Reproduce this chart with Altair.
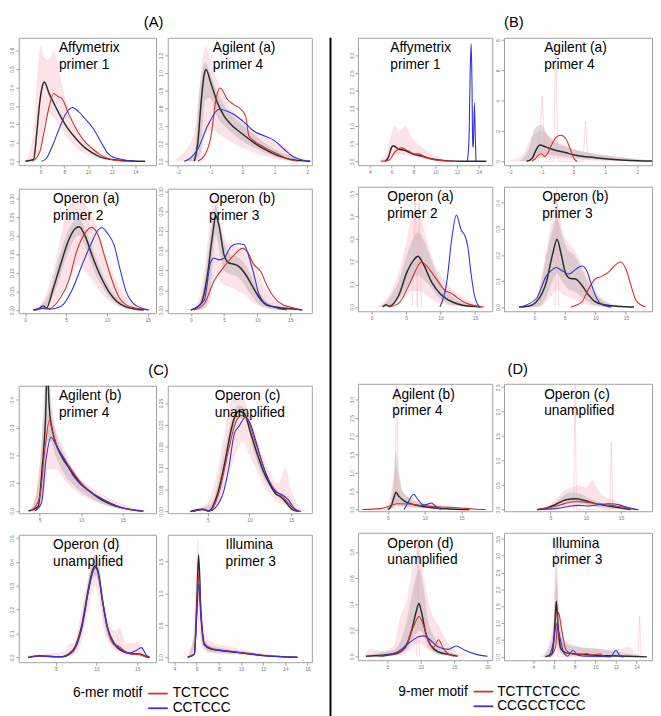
import altair as alt
import pandas as pd

FONT = "Liberation Sans"
RED = "#dd2b2b"
BLUE = "#3232d6"
BLACK = "#2b2b2b"
PINK = "#f5a9b6"
GRAY = "#9c9c9c"

# ---------------- labels ----------------
group_titles = ["(A)", "(B)", "(C)", "(D)"]
top_labels = ["Affymetrix\nprimer 1", "Agilent (a)\nprimer 4", "Operon (a)\nprimer 2", "Operon (b)\nprimer 3"]
bottom_labels = ["Agilent (b)\nprimer 4", "Operon (c)\nunamplified", "Operon (d)\nunamplified", "Illumina\nprimer 3"]
legend6_title = "6-mer motif"
legend6_motifs = ["TCTCCC", "CCTCCC"]
legend9_title = "9-mer motif"
legend9_motifs = ["TCTTCTCCC", "CCGCCTCCC"]

# ---------------- (A) 6-mer, top ----------------
A1_black = [(4.7,0),(5.4,0.01),(5.65,0.14),(5.92,0.32),(6.15,0.41),(6.32,0.43),(6.7,0.37),(7.0,0.33),(7.68,0.244),(8.35,0.173),(9.03,0.12),(9.7,0.076),(10.38,0.046),(11.05,0.023),(12.4,0.007),(13.76,0.002),(14.84,0)]
A1_red = [(5.3,0),(5.92,0.05),(6.32,0.17),(6.73,0.30),(7.1,0.368),(7.5,0.35),(7.8,0.34),(8.35,0.26),(9.03,0.173),(9.7,0.11),(10.4,0.067),(11.05,0.035),(11.7,0.016),(12.4,0.005),(13.8,0)]
A1_blue = [(6.05,0),(6.46,0.014),(7.0,0.085),(7.54,0.173),(8.08,0.253),(8.7,0.292),(9.2,0.27),(9.7,0.235),(10.5,0.173),(11.05,0.11),(11.6,0.05),(12.1,0.023),(12.9,0.01),(14.0,0)]
A1_pink = [(4.7,0,0.005),(5.3,0,0.12),(5.7,0.01,0.45),(6.0,0.08,0.63),(6.3,0.2,0.56),(6.7,0.26,0.55),(7.1,0.24,0.6),(7.7,0.18,0.45),(8.2,0.13,0.31),(8.8,0.085,0.21),(9.4,0.055,0.14),(10.0,0.033,0.095),(10.6,0.018,0.065),(11.2,0.01,0.042),(12.0,0.004,0.022),(12.6,0.002,0.013),(13.5,0,0.006),(14.8,0,0)]

A2_black = [(-1.49,0),(-1.38,0.21),(-1.28,0.66),(-1.18,0.99),(-1.13,1.04),(-0.97,0.88),(-0.77,0.66),(-0.56,0.51),(-0.36,0.42),(0,0.31),(0.36,0.21),(0.67,0.14),(1.08,0.067),(1.49,0.022),(2.1,0)]
A2_red = [(-1.38,0),(-1.15,0.08),(-0.97,0.29),(-0.82,0.70),(-0.69,0.83),(-0.46,0.70),(-0.26,0.64),(-0.05,0.59),(0.1,0.51),(0.2,0.29),(0.36,0.23),(0.67,0.16),(1.08,0.085),(1.38,0.03),(1.7,0)]
A2_blue = [(-1.8,0),(-1.6,0.04),(-1.38,0.14),(-1.08,0.4),(-0.72,0.59),(-0.36,0.55),(0,0.46),(0.36,0.34),(0.67,0.29),(0.97,0.24),(1.28,0.14),(1.59,0.048),(1.9,0.01),(2.1,0)]
A2_gray = [(-1.8,0,0.01),(-1.5,0,0.1),(-1.3,0.1,0.9),(-1.15,0.7,1.12),(-1.0,0.72,1.0),(-0.8,0.52,0.8),(-0.5,0.38,0.6),(0,0.23,0.42),(0.5,0.13,0.26),(1.0,0.05,0.14),(1.5,0.01,0.06),(2.0,0,0.01)]
A2_pink = [(-2.1,0,0.01),(-1.5,0,0.3),(-1.3,0.02,0.95),(-1.15,0.3,1.3),(-0.9,0.35,1.05),(-0.7,0.3,0.85),(-0.5,0.25,0.68),(0,0.15,0.47),(0.5,0.08,0.32),(1.0,0.03,0.22),(1.3,0.01,0.18),(1.6,0,0.07),(2.0,0,0.02)]

A3_black = [(1.0,0),(1.6,0.002),(2.17,0.011),(2.6,0.005),(3.36,0.053),(4.34,0.123),(5.33,0.189),(6.12,0.219),(6.6,0.224),(7.3,0.2),(8.29,0.14),(9.28,0.088),(10.26,0.048),(11.25,0.022),(12.24,0.009),(13.6,0.002),(14.5,0)]
A3_red = [(1.0,0),(2.4,0.005),(3.0,0.004),(4.1,0.026),(5.33,0.079),(6.3,0.158),(7.3,0.206),(8.1,0.222),(8.9,0.202),(9.7,0.145),(10.5,0.088),(11.45,0.035),(12.4,0.013),(14.0,0.003),(15.0,0)]
A3_blue = [(1.0,0),(1.8,0.004),(3.0,0.002),(4.34,0.009),(5.72,0.053),(6.9,0.118),(8.1,0.18),(8.9,0.215),(9.4,0.221),(10.07,0.206),(10.86,0.175),(11.65,0.105),(12.44,0.044),(13.2,0.018),(14.4,0.004),(15.2,0)]
A3_gray = [(1.5,0,0.005),(2.2,0.005,0.018),(3,0.02,0.05),(4,0.07,0.13),(5,0.14,0.2),(6,0.19,0.24),(6.6,0.2,0.245),(7.5,0.16,0.21),(8.5,0.1,0.15),(9.5,0.06,0.095),(10.5,0.03,0.055),(11.5,0.012,0.028),(12.5,0.004,0.012),(14,0,0.002)]
A3_pink = [(0.8,0,0.003),(2,0,0.02),(3,0.005,0.07),(4,0.03,0.16),(5,0.07,0.26),(5.8,0.1,0.29),(6.5,0.12,0.295),(7.5,0.1,0.28),(8.5,0.07,0.24),(9.5,0.04,0.17),(10.5,0.02,0.11),(11.5,0.008,0.06),(12.5,0.002,0.03),(13.5,0,0.012),(14.5,0,0.004),(15.5,0,0)]

A4_black = [(0,0),(1.5,0.016),(2.5,0.09),(3.25,0.189),(3.75,0.238),(4.25,0.213),(5.0,0.139),(5.75,0.119),(6.5,0.116),(7.25,0.11),(8.25,0.09),(9.25,0.061),(10.25,0.033),(11.5,0.012),(13.5,0.006),(16,0.002),(16.8,0)]
A4_red = [(0.5,0),(2,0.016),(3.5,0.074),(5,0.11),(6.5,0.139),(7.75,0.156),(8.5,0.148),(9.5,0.115),(10.5,0.098),(11.5,0.061),(12.5,0.033),(14,0.012),(15,0.008),(16.5,0)]
A4_blue = [(0,0),(2,0.025),(3,0.123),(3.5,0.131),(4.25,0.127),(5,0.131),(6,0.16),(7,0.168),(8,0.166),(8.75,0.135),(9.5,0.09),(10.25,0.041),(11,0.02),(12.5,0.008),(14.5,0)]
A4_gray = [(0.5,0,0.005),(1,0,0.01),(2,0.005,0.07),(3,0.06,0.2),(3.75,0.19,0.265),(4.5,0.13,0.2),(5,0.1,0.17),(6,0.09,0.14),(7,0.085,0.135),(8,0.065,0.12),(9,0.04,0.09),(10,0.02,0.055),(11,0.008,0.03),(12,0.003,0.015),(14,0,0.006),(16,0,0.002)]
A4_pink = [(-1,0,0.002),(0,0,0.005),(1,0,0.02),(2,0.002,0.1),(3,0.03,0.24),(3.75,0.1,0.29),(4.5,0.07,0.22),(5.5,0.06,0.17),(7,0.05,0.16),(8,0.04,0.15),(9,0.025,0.13),(10,0.012,0.1),(11,0.005,0.06),(12,0.002,0.035),(13,0,0.02),(15,0,0.01),(17,0,0)]

# ---------------- (B) 9-mer, top ----------------
B1_black = [(5.4,0),(5.7,0.12),(6.0,0.4),(6.16,0.444),(6.6,0.35),(7.2,0.31),(7.9,0.21),(8.7,0.15),(9.4,0.09),(10.15,0.046),(10.9,0.02),(12.4,0.005),(14.7,0)]
B1_red = [(5.0,0),(5.6,0.02),(5.9,0.07),(6.16,0.21),(6.6,0.35),(6.9,0.38),(7.5,0.3),(8.1,0.21),(8.5,0.21),(9.1,0.12),(9.7,0.055),(10.6,0.02),(11.8,0)]
B1_blue = [(12.95,0),(13.1,0.6),(13.22,2.6),(13.3,3.33),(13.37,2.4),(13.45,0.45),(13.5,0.4),(13.6,1.65),(13.68,0.7),(13.75,0)]
B1_pink = [(4.5,0,0.01),(5.0,0,0.06),(5.5,0.01,0.22),(6.0,0.1,0.8),(6.3,0.18,1.0),(6.7,0.2,0.85),(7.3,0.18,1.0),(7.7,0.15,0.75),(8.2,0.12,0.55),(8.7,0.08,0.42),(9.2,0.05,0.3),(9.7,0.03,0.2),(10.2,0.015,0.13),(11,0.005,0.06),(12,0,0.02),(13,0,0)]

B2_black = [(-1.46,0),(-1.3,0.17),(-1.15,0.82),(-1.05,1.08),(-0.85,0.93),(-0.54,0.71),(-0.23,0.56),(0,0.43),(0.48,0.28),(1.0,0.17),(1.5,0.09),(2.0,0.04),(2.46,0.02)]
B2_red = [(-1.3,0),(-1.2,0.15),(-1.1,0.39),(-1.0,0.5),(-0.9,0.32),(-0.8,0.55),(-0.74,0.82),(-0.54,1.57),(-0.39,1.72),(-0.23,1.47),(-0.08,0.71),(0.02,0.17),(0.12,0)]
B2_blue = []
B2_gray = [(-1.7,0,0.02),(-1.4,0.02,0.8),(-1.2,0.25,2.2),(-1.0,0.5,2.4),(-0.8,0.45,1.7),(-0.6,0.38,1.3),(-0.3,0.3,1.0),(0,0.22,0.8),(0.5,0.13,0.55),(1.0,0.07,0.4),(1.5,0.03,0.27),(2.0,0.01,0.14),(2.4,0,0.08)]
B2_pink = [(-2.1,0,0.02),(-1.6,0,0.4),(-1.3,0.05,1.6),(-1.0,0.2,2.0),(-0.7,0.2,1.6),(-0.4,0.15,1.2),(0,0.1,0.8),(0.5,0.05,0.55),(1.0,0.02,0.4),(1.5,0.01,0.27),(2.0,0,0.13),(2.4,0,0.05)]
B2_spikes = [(-1.1,0),(-0.98,4.3),(-0.88,0),(-0.62,0),(-0.55,7.7),(-0.48,0),(0.3,0),(0.38,2.65),(0.46,0)]

B3_black = [(1.6,0),(2.05,0.01),(2.5,0.003),(3.95,0.053),(5.1,0.153),(6.1,0.207),(6.7,0.224),(7.5,0.189),(8.7,0.11),(9.9,0.06),(11.1,0.031),(12.5,0.013),(14.4,0.003),(15.9,0)]
B3_red = [(2.5,0),(3.95,0.017),(5.4,0.096),(6.6,0.174),(7.2,0.2),(8,0.18),(8.7,0.153),(9.7,0.11),(10.6,0.074),(11.6,0.06),(12.5,0.039),(13.5,0.02),(14.9,0.006),(16.3,0)]
B3_blue = [(9.9,0),(10.9,0.11),(11.6,0.296),(12.3,0.406),(13.0,0.339),(13.5,0.317),(13.95,0.267),(14.4,0.153),(14.9,0.053),(15.4,0.01),(15.7,0)]
B3_gray = [(1,0,0),(2,0.002,0.02),(3,0.01,0.06),(4,0.04,0.12),(5,0.08,0.22),(6,0.13,0.3),(6.7,0.14,0.33),(7.5,0.12,0.3),(8.5,0.09,0.22),(9.5,0.05,0.14),(10.5,0.025,0.08),(11.5,0.01,0.05),(12.5,0.004,0.03),(14,0,0.01),(15.5,0,0)]
B3_pink = [(0.5,0,0.002),(1,0,0.005),(2,0,0.03),(3,0.005,0.08),(4,0.02,0.16),(5,0.05,0.28),(6,0.07,0.42),(7,0.07,0.4),(8,0.05,0.3),(9,0.03,0.2),(10,0.015,0.14),(11,0.008,0.1),(12,0.004,0.07),(13,0.002,0.05),(14,0,0.03),(15,0,0.015),(16,0,0)]
B3_spikes = [(5.9,0),(6.3,0.52),(6.6,0),(6.9,0.46),(7.2,0)]

B4_black = [(-2.5,0),(-1,0.003),(0.37,0.021),(1.97,0.096),(3.03,0.207),(3.72,0.26),(4.36,0.207),(5.16,0.127),(5.96,0.11),(6.76,0.108),(7.8,0.083),(8.9,0.046),(9.95,0.021),(11.5,0.009),(14.2,0.002),(16.3,0)]
B4_red = [(5.96,0),(7.8,0.021),(8.9,0.071),(9.95,0.108),(11,0.118),(12.1,0.133),(13.1,0.158),(14.1,0.173),(15,0.145),(15.8,0.083),(16.6,0.027),(17.4,0.009),(18.2,0)]
B4_blue = [(-2.3,0),(0.37,0.034),(1.97,0.12),(3.03,0.145),(3.56,0.152),(4.6,0.139),(5.7,0.127),(6.76,0.145),(7.8,0.158),(8.6,0.139),(9.4,0.083),(10.2,0.034),(11,0.011),(12.6,0)]
B4_gray = [(-2,0,0.002),(-1,0,0.005),(0,0,0.02),(1,0.005,0.08),(2,0.04,0.2),(3,0.1,0.3),(3.7,0.13,0.34),(4.5,0.1,0.28),(5.5,0.07,0.22),(6.5,0.06,0.2),(7.5,0.045,0.16),(8.5,0.025,0.11),(9.5,0.01,0.07),(10.5,0.004,0.04),(12,0,0.015),(14,0,0.005),(16,0,0)]
B4_pink = [(-2,0,0.003),(0,0,0.02),(1,0.002,0.1),(2,0.02,0.22),(3,0.05,0.35),(3.7,0.07,0.4),(4.5,0.05,0.3),(5.5,0.04,0.25),(6.5,0.03,0.22),(7.5,0.02,0.18),(8.5,0.01,0.13),(9.5,0.005,0.09),(10.5,0.002,0.05),(12,0,0.02),(14,0,0.007),(16,0,0)]
B4_spikes = [(3.4,0),(3.7,0.456),(4.0,0)]

# ---------------- (C) 6-mer, bottom ----------------
C1_black = [(3.65,0),(4.8,0.015),(5.3,0.156),(5.7,0.333),(5.9,0.52),(6.16,0.368),(6.55,0.286),(7.13,0.227),(7.7,0.192),(8.5,0.156),(9.46,0.115),(10.4,0.086),(11.4,0.062),(12.4,0.041),(13.5,0.025),(14.7,0.013),(16.2,0.004),(17.4,0)]
C1_red = [(4.0,0),(5.0,0.05),(5.6,0.215),(6.16,0.325),(6.55,0.286),(7.13,0.227),(7.7,0.198),(8.5,0.162),(9.46,0.121),(10.4,0.086),(12.4,0.045),(14.3,0.018),(16.4,0.003),(17.5,0)]
C1_blue = [(4.4,0),(5.2,0.027),(5.78,0.19),(6.36,0.265),(6.94,0.239),(7.5,0.21),(7.9,0.19),(8.3,0.168),(8.9,0.133),(9.65,0.104),(10.8,0.074),(12.4,0.045),(14.3,0.018),(16.6,0.001),(17.5,0)]
C1_gray = [(4,0,0.005),(5,0.02,0.15),(5.5,0.1,0.4),(5.9,0.25,0.55),(6.3,0.25,0.42),(7,0.19,0.28),(8,0.13,0.2),(9,0.095,0.15),(10,0.068,0.11),(11,0.048,0.08),(12,0.032,0.055),(13,0.02,0.035),(14,0.012,0.022),(15,0.006,0.012),(16.5,0.001,0.004),(17.5,0,0)]
C1_pink = [(3.5,0,0),(4.5,0,0.05),(5,0.01,0.17),(5.5,0.05,0.32),(6,0.15,0.35),(7,0.15,0.28),(8,0.11,0.22),(9,0.08,0.15),(9.8,0.06,0.11),(10.4,0.05,0.1),(11.5,0.035,0.08),(12.5,0.025,0.06),(13.5,0.015,0.045),(15,0.005,0.025),(16.5,0,0.01),(18,0,0)]

C2_black = [(2.9,0),(4.4,0.005),(5.1,0.001),(6.3,0.049),(7.1,0.117),(7.85,0.192),(8.4,0.226),(8.7,0.231),(9.4,0.226),(10.1,0.184),(10.9,0.135),(11.65,0.094),(12.4,0.064),(13.2,0.04),(13.75,0.034),(14.3,0.023),(15.1,0.005),(15.9,0)]
C2_red = [(3.2,0),(4.4,0.004),(5.2,0.001),(6.33,0.041),(7.47,0.139),(8.23,0.199),(9.07,0.222),(9.75,0.214),(10.5,0.173),(11.27,0.128),(12.03,0.086),(12.8,0.056),(13.75,0.038),(14.7,0.019),(15.46,0.004),(16,0)]
C2_blue = [(3.3,0),(4.4,0.005),(5.2,0.001),(6.7,0.034),(7.47,0.094),(8.2,0.18),(8.8,0.198),(9.56,0.218),(10.1,0.203),(10.9,0.154),(11.65,0.105),(12.4,0.068),(13.2,0.045),(14.0,0.038),(14.7,0.026),(15.5,0.005),(16.2,0)]
C2_gray = [(3,0,0.003),(4.4,0.002,0.008),(5.5,0.002,0.02),(6,0.02,0.05),(7,0.1,0.14),(8,0.19,0.22),(8.7,0.215,0.245),(9.5,0.21,0.235),(10.5,0.14,0.17),(11.5,0.085,0.11),(12.5,0.055,0.07),(13.5,0.033,0.045),(14.5,0.018,0.03),(15.5,0,0.005),(16,0,0)]
C2_pink = [(3,0,0.002),(5,0,0.02),(6,0.01,0.08),(7,0.06,0.18),(7.8,0.1,0.25),(8.5,0.14,0.265),(9.3,0.16,0.26),(10,0.13,0.22),(11,0.09,0.16),(12,0.05,0.11),(13,0.03,0.07),(13.5,0.02,0.065),(14.3,0.015,0.1),(15,0.005,0.05),(16,0,0.01),(17,0,0)]

C3_black = [(1.6,0),(3.0,0.007),(4.6,0.003),(5.8,0.003),(6.6,0.014),(7.4,0.048),(8.2,0.137),(9.0,0.288),(9.56,0.37),(9.84,0.384),(10.16,0.363),(10.75,0.233),(11.35,0.123),(12.1,0.062),(12.9,0.034),(14.1,0.016),(15.3,0.014),(16.1,0.003),(16.5,0)]
C3_red = [(1.6,0),(3.0,0.006),(5.8,0.003),(6.6,0.012),(7.4,0.045),(8.2,0.13),(9.0,0.28),(9.56,0.36),(9.84,0.377),(10.16,0.355),(10.75,0.23),(11.35,0.12),(12.1,0.055),(12.7,0.048),(13.3,0.03),(14.1,0.016),(15.3,0.012),(16.1,0.003),(16.5,0)]
C3_blue = [(1.6,0),(3.0,0.006),(5.8,0.003),(6.6,0.012),(7.4,0.04),(8.2,0.125),(9.0,0.28),(9.56,0.365),(9.84,0.377),(10.16,0.36),(10.75,0.235),(11.35,0.125),(12.1,0.06),(12.9,0.03),(14.1,0.018),(14.9,0.03),(15.5,0.041),(16.1,0.01),(16.5,0)]
C3_gray = [(6,0,0.01),(7.5,0.03,0.06),(8.5,0.15,0.22),(9.5,0.33,0.41),(9.9,0.34,0.43),(10.3,0.3,0.39),(11,0.13,0.2),(12,0.05,0.08),(13,0.025,0.04),(14,0.012,0.022),(15.5,0.005,0.015),(16.5,0,0)]
C3_pink = [(1.5,0,0.01),(4,0,0.015),(6,0,0.025),(6.6,0.005,0.055),(7.2,0.01,0.06),(8,0.05,0.17),(9,0.2,0.34),(9.8,0.3,0.43),(10.5,0.2,0.31),(11,0.1,0.2),(11.5,0.06,0.15),(12.2,0.03,0.11),(12.9,0.02,0.123),(13.5,0.01,0.06),(14.3,0.008,0.06),(15.2,0.005,0.065),(16,0,0.02),(17,0,0)]

C4_black = [(5.2,0),(5.8,0.05),(6.03,0.92),(6.18,1.6),(6.4,0.67),(6.7,0.2),(7.3,0.128),(8.5,0.1),(9.7,0.077),(10.9,0.051),(12.1,0.026),(13.6,0.01),(15.1,0)]
C4_red = [(5.2,0),(5.8,0.05),(6.03,0.8),(6.18,1.3),(6.4,0.65),(6.7,0.22),(7.3,0.14),(8.5,0.105),(9.7,0.08),(10.9,0.053),(12.1,0.028),(13.6,0.01),(15.1,0)]
C4_blue = [(5.2,0),(5.8,0.05),(6.03,0.7),(6.18,1.15),(6.4,0.62),(6.7,0.2),(7.3,0.13),(8.5,0.1),(9.7,0.075),(10.9,0.05),(12.1,0.025),(13.6,0.01),(15.1,0)]
C4_gray = [(5.3,0,0.01),(5.9,0.2,0.6),(6.18,0.9,1.65),(6.5,0.2,0.5),(7,0.1,0.2),(8,0.07,0.15),(10,0.05,0.1),(12,0.02,0.05),(14,0.005,0.015),(15.5,0,0)]
C4_pink = [(4.5,0,0.005),(5,0,0.02),(5.7,0.05,0.3),(6.1,0.6,1.85),(6.5,0.15,0.7),(7,0.07,0.3),(8,0.05,0.2),(9,0.04,0.17),(10,0.03,0.12),(12,0.01,0.06),(14,0,0.02),(15.5,0,0)]

# ---------------- (D) 9-mer, bottom ----------------
D1_black = [(5.0,0),(5.43,0.09),(5.87,0.36),(6.1,0.47),(6.5,0.36),(7.2,0.24),(8.26,0.15),(9.57,0.09),(11.3,0.045),(13.5,0.018),(16.1,0)]
D1_red = [(1.5,0),(3.9,0.027),(5.0,0.08),(5.65,0.13),(6.3,0.16),(7.8,0.15),(9.57,0.116),(11.3,0.08),(13.5,0.062),(14.8,0.045),(16.5,0.018),(18.3,0)]
D1_blue = [(7.2,0),(7.8,0.22),(8.5,0.42),(9.1,0.27),(9.8,0.13),(10.3,0.14),(10.9,0.18),(11.5,0.09),(12.2,0)]
D1_gray = [(4.5,0,0.01),(5,0,0.05),(5.7,0.02,0.6),(6.1,0.15,1.6),(6.5,0.12,1.0),(7,0.1,0.5),(8,0.07,0.3),(9,0.05,0.2),(10,0.04,0.15),(11,0.03,0.1),(12,0.02,0.07),(13,0.01,0.05),(15,0,0.02),(17,0,0)]
D1_pink = [(2,0,0.005),(4,0,0.03),(5,0.02,0.15),(5.7,0.05,0.8),(6.1,0.1,1.2),(6.5,0.1,0.8),(7,0.08,0.5),(8,0.06,0.35),(9,0.05,0.25),(10,0.04,0.2),(12,0.03,0.13),(14,0.02,0.08),(16,0.01,0.04),(18,0,0.01)]
D1_spikes = [(5.95,0),(6.2,3.6),(6.45,0)]

D2_black = [(3.1,0),(4.45,0.033),(5.8,0.11),(7.2,0.2),(8.6,0.22),(10,0.18),(11.3,0.127),(12.7,0.087),(14.1,0.053),(15.5,0.02),(16.4,0)]
D2_red = [(3.1,0),(5.8,0.067),(7.2,0.133),(8.6,0.167),(10,0.153),(11.3,0.127),(12.7,0.1),(14.1,0.08),(15.5,0.047),(16.8,0.007),(17.5,0)]
D2_blue = [(3.1,0),(5.8,0.02),(7.7,0.067),(9,0.087),(10.4,0.073),(11.8,0.1),(13.2,0.12),(14.1,0.113),(15,0.087),(15.9,0.047),(17.3,0)]
D2_gray = [(3,0,0.005),(4,0,0.02),(5,0.02,0.07),(6,0.06,0.18),(7,0.12,0.3),(8,0.15,0.35),(9,0.14,0.33),(10,0.11,0.27),(11,0.08,0.2),(12,0.05,0.14),(13,0.03,0.1),(14,0.02,0.07),(15,0,0.04),(16,0,0.01),(17,0,0)]
D2_pink = [(3,0,0.002),(4,0,0.04),(5,0.01,0.12),(6,0.03,0.25),(7,0.06,0.4),(8,0.08,0.45),(9,0.08,0.5),(10,0.06,0.45),(10.9,0.05,0.6),(12,0.03,0.35),(13,0.02,0.25),(14,0.01,0.2),(15,0.005,0.12),(16,0,0.05),(17,0,0)]
D2_spikes = [(8.3,0),(8.5,2.6),(8.7,0),(13.4,0),(13.62,1.37),(13.85,0)]

D3_black = [(1.8,0),(4.15,0.008),(6.5,0.025),(7.7,0.07),(8.64,0.2),(9.35,0.35),(9.73,0.406),(10.06,0.35),(10.77,0.173),(11.5,0.084),(12.66,0.033),(14.1,0.015),(15.5,0)]
D3_red = [(3.5,0),(6.5,0.02),(7.9,0.097),(8.9,0.224),(9.73,0.305),(10.5,0.224),(11.2,0.109),(11.95,0.071),(12.66,0.127),(13.4,0.058),(14.1,0.02),(15.0,0)]
D3_blue = [(4,0),(6.5,0.033),(8.4,0.109),(9.8,0.152),(10.5,0.157),(11.2,0.135),(12.66,0.071),(14.1,0.053),(15.3,0.079),(16.45,0.05),(18.3,0.015),(20,0)]
D3_gray = [(2,0,0.01),(4,0,0.03),(6,0.005,0.05),(7,0.02,0.12),(8,0.06,0.3),(9,0.15,0.55),(9.8,0.2,0.67),(10.5,0.15,0.5),(11,0.08,0.3),(12,0.03,0.15),(13,0.01,0.08),(14,0.005,0.04),(15,0,0.02),(16,0,0)]
D3_pink = [(1.5,0,0),(2.5,0,0.058),(4,0,0.04),(6,0.005,0.08),(6.75,0.01,0.27),(8,0.03,0.45),(9,0.08,0.75),(9.8,0.1,0.85),(10.5,0.08,0.6),(11.5,0.04,0.35),(12.5,0.02,0.25),(13.5,0.01,0.15),(15,0,0.05),(16,0,0.02),(17,0,0)]
D3_spikes = [(9.4,0),(9.6,0.91),(9.8,0)]

D4_black = [(5.17,0),(5.83,0.1),(6.1,0.98),(6.23,1.65),(6.43,0.78),(6.67,0.245),(7.17,0.118),(8.5,0.08),(9.83,0.05),(11.2,0.03),(13.2,0.02),(15.0,0)]
D4_red = [(5.6,0),(6.17,0.29),(6.43,1.32),(6.77,0.78),(7.17,0.2),(7.83,0.08),(8.5,0.06),(9.17,0.1),(9.67,0.05),(10.5,0.09),(10.83,0.02),(11.5,0)]
D4_blue = [(5.5,0),(6.0,0.49),(6.23,0.98),(6.57,0.59),(7.0,0.1),(7.33,0.02),(7.83,0.196),(8.33,0.05),(9.17,0.02),(11.5,0.01),(12.0,0.196),(12.43,0.02),(12.8,0)]
D4_gray = [(5,0,0.05),(5.8,0.02,0.5),(6.1,0.3,1.5),(6.23,0.6,2.4),(6.5,0.2,1.2),(7,0.05,0.4),(8,0.04,0.3),(9,0.03,0.28),(10,0.03,0.25),(11,0.02,0.2),(12,0.01,0.15),(13,0.005,0.1),(14,0,0.05),(15,0,0.01)]
D4_pink = [(4.5,0,0.01),(5,0,0.05),(5.8,0.05,0.8),(6.1,0.3,2.0),(6.23,0.4,2.6),(6.5,0.1,1.5),(7,0.03,0.5),(8,0.02,0.35),(9,0.01,0.25),(10,0.01,0.25),(11,0.005,0.22),(12,0,0.2),(13.2,0,0.3),(14,0,0.08),(15,0,0.02)]
D4_spikes = [(6.0,0),(6.2,3.5),(6.4,0),(14.15,0),(14.3,1.22),(14.45,0)]


def xy(pts):
    return pd.DataFrame(pts, columns=["x", "y"])


def band(pts):
    return pd.DataFrame(pts, columns=["x", "lo", "hi"])


def panel(label, lx, w, h, xdom, xticks, ydom, yticks, yfmt,
          black, red, blue, pink, gray=None, spikes=None):
    xs = alt.Scale(domain=xdom, nice=False, zero=False)
    ys = alt.Scale(domain=ydom, nice=False, zero=False)
    xa = alt.Axis(values=xticks, format="d")
    ya = alt.Axis(values=yticks, format=yfmt)

    def X(f="x"):
        return alt.X(f + ":Q", scale=xs, axis=xa, title=None)

    def Y(f="y"):
        return alt.Y(f + ":Q", scale=ys, axis=ya, title=None)

    layers = [alt.Chart(band(pink)).mark_area(color=PINK, opacity=0.32, interpolate="monotone", clip=True)
              .encode(x=X(), y=Y("lo"), y2="hi:Q")]
    if gray:
        layers.append(alt.Chart(band(gray)).mark_area(color=GRAY, opacity=0.33, interpolate="monotone", clip=True)
                      .encode(x=X(), y=Y("lo"), y2="hi:Q"))
    if spikes:
        layers.append(alt.Chart(xy(spikes)).mark_line(color=PINK, strokeWidth=0.8, opacity=0.55, clip=True)
                      .encode(x=X(), y=Y()))
    for pts, col, sw in [(black, BLACK, 1.5), (red, RED, 1.1), (blue, BLUE, 1.1)]:
        if pts:
            layers.append(alt.Chart(xy(pts)).mark_line(color=col, strokeWidth=sw, interpolate="monotone", clip=True)
                          .encode(x=X(), y=Y()))
    layers.append(alt.Chart(pd.DataFrame({"label": [label]}))
                  .mark_text(align="left", baseline="top", font=FONT, fontSize=14, lineHeight=17,
                             lineBreak="\n", color="black")
                  .encode(x=alt.value(lx), y=alt.value(4), text="label:N"))
    return alt.layer(*layers).properties(width=w, height=h)


def group(title, dx, p1, p2, p3, p4):
    return alt.vconcat(
        alt.hconcat(p1, p2, spacing=0),
        alt.hconcat(p3, p4, spacing=0),
        spacing=10,
    ).properties(title=alt.TitleParams(title, fontSize=15, font=FONT, fontWeight="normal",
                                       anchor="middle", offset=7, dx=dx, color="black"))


def legend_chart(title, motifs, tx, lx0, lx1, labx):
    ys = alt.Scale(type="point", domain=motifs, range=[15, 30], padding=0)
    t = alt.Chart(pd.DataFrame({"t": [title]})).mark_text(
        align="right", baseline="middle", font=FONT, fontSize=14, color="black"
    ).encode(x=alt.value(tx), y=alt.value(15), text="t:N")
    r1 = alt.Chart(pd.DataFrame({"motif": [motifs[0]]})).mark_rule(color=RED, strokeWidth=1.8).encode(
        x=alt.value(lx0), x2=alt.value(lx1), y=alt.Y("motif:N", scale=ys, axis=None))
    r2 = alt.Chart(pd.DataFrame({"motif": [motifs[1]]})).mark_rule(color=BLUE, strokeWidth=1.8).encode(
        x=alt.value(lx0), x2=alt.value(lx1), y=alt.Y("motif:N", scale=ys, axis=None))
    lab = alt.Chart(pd.DataFrame({"motif": motifs})).mark_text(
        align="left", baseline="middle", font=FONT, fontSize=14, color="black"
    ).encode(x=alt.value(labx), y=alt.Y("motif:N", scale=ys, axis=None), text="motif:N")
    return alt.layer(t, r1, r2, lab).properties(width=300, height=37,
                                                view=alt.ViewBackground(stroke="transparent"))


f1 = ".1f"
f2 = ".2f"
WL1, WL2, WR1, WR2 = 140, 147, 137, 151

A1 = panel(top_labels[0], 41, WL1, 130, [4.15, 15.75], [6, 8, 10, 12, 14], [-0.021, 0.67], [0, 0.1, 0.2, 0.3, 0.4, 0.5, 0.6], f1, A1_black, A1_red, A1_blue, A1_pink)
A2 = panel(top_labels[1], 46, WL2, 130, [-2.31, 2.15], [-2, -1, 0, 1, 2], [-0.044, 1.4], [0, 0.2, 0.4, 0.6, 0.8, 1.0, 1.2], f1, A2_black, A2_red, A2_blue, A2_pink, A2_gray)
A3 = panel(top_labels[2], 35, WL1, 127, [-0.79, 16.0], [0, 5, 10, 15], [-0.0088, 0.326], [0, 0.05, 0.1, 0.15, 0.2, 0.25, 0.3], f2, A3_black, A3_red, A3_blue, A3_pink, A3_gray)
A4 = panel(top_labels[3], 42, WL2, 127, [-3.5, 18.25], [0, 5, 10, 15], [-0.008, 0.307], [0, 0.05, 0.1, 0.15, 0.2, 0.25, 0.3], f2, A4_black, A4_red, A4_blue, A4_pink, A4_gray)

B1 = panel(top_labels[0], 33, WR1, 130, [2.9, 15.24], [4, 6, 8, 10, 12, 14], [-0.11, 3.5], [0, 0.5, 1.0, 1.5, 2.0, 2.5, 3.0], f1, B1_black, B1_red, B1_blue, B1_pink)
B2 = panel(top_labels[1], 41, WR2, 130, [-2.17, 2.46], [-2, -1, 0, 1, 2], [-0.26, 8.15], [0, 2, 4, 6, 8], "d", B2_black, B2_red, B2_blue, B2_pink, B2_gray, B2_spikes)
B3 = panel(top_labels[2], 30, WR1, 127, [-2.0, 17.5], [0, 5, 10, 15], [-0.019, 0.531], [0, 0.1, 0.2, 0.3, 0.4, 0.5], f1, B3_black, B3_red, B3_blue, B3_pink, B3_gray, B3_spikes)
B4 = panel(top_labels[3], 39, WR2, 127, [-4.95, 19.25], [0, 5, 10, 15], [-0.016, 0.462], [0, 0.1, 0.2, 0.3, 0.4], f1, B4_black, B4_red, B4_blue, B4_pink, B4_gray, B4_spikes)

C1 = panel(bottom_labels[0], 41, WL1, 130, [2.48, 19.0], [5, 10, 15], [-0.008, 0.45], [0, 0.1, 0.2, 0.3, 0.4], f1, C1_black, C1_red, C1_blue, C1_pink, C1_gray)
C2 = panel(bottom_labels[1], 48, WL2, 130, [0.2, 17.5], [5, 10, 15], [-0.004, 0.29], [0, 0.05, 0.1, 0.15, 0.2, 0.25], f2, C2_black, C2_red, C2_blue, C2_pink, C2_gray)
C3 = panel(bottom_labels[2], 35, WL1, 130, [0.44, 17.3], [5, 10, 15], [-0.02, 0.514], [0, 0.1, 0.2, 0.3, 0.4, 0.5], f1, C3_black, C3_red, C3_blue, C3_pink, C3_gray)
C4 = panel(bottom_labels[3], 59, WL2, 130, [3.4, 16.4], [4, 6, 8, 10, 12, 14, 16], [-0.077, 1.92], [0, 0.5, 1.0, 1.5], f1, C4_black, C4_red, C4_blue, C4_pink, C4_gray)

D1 = panel(bottom_labels[0], 35, WR1, 130, [0.92, 19.2], [5, 10, 15], [-0.045, 3.43], [0, 0.5, 1.0, 1.5, 2.0, 2.5, 3.0], f1, D1_black, D1_red, D1_blue, D1_pink, D1_gray, D1_spikes)
D2 = panel(bottom_labels[1], 41, WR2, 130, [-1.57, 19.4], [5, 10, 15], [-0.033, 2.57], [0, 0.5, 1.0, 1.5, 2.0, 2.5], f1, D2_black, D2_red, D2_blue, D2_pink, D2_gray, D2_spikes)
D3 = panel(bottom_labels[2], 30, WR1, 130, [0.6, 20.7], [5, 10, 15, 20], [-0.03, 0.947], [0, 0.2, 0.4, 0.6, 0.8], f1, D3_black, D3_red, D3_blue, D3_pink, D3_gray, D3_spikes)
D4 = panel(bottom_labels[3], 49, WR2, 130, [1.17, 15.5], [4, 6, 8, 10, 12, 14], [-0.1, 3.68], [0, 0.5, 1.0, 1.5, 2.0, 2.5, 3.0, 3.5], f1, D4_black, D4_red, D4_blue, D4_pink, D4_gray, D4_spikes)

left = alt.vconcat(
    group(group_titles[0], -7, A1, A2, A3, A4),
    alt.vconcat(group(group_titles[2], -2, C1, C2, C3, C4),
                legend_chart(legend6_title, legend6_motifs, 126, 132, 152, 157), spacing=5),
    spacing=40,
)
right = alt.vconcat(
    group(group_titles[1], 14, B1, B2, B3, B4),
    alt.vconcat(group(group_titles[3], 18, D1, D2, D3, D4),
                legend_chart(legend9_title, legend9_motifs, 112, 118, 138, 142), spacing=5),
    spacing=40,
)

mid = alt.Chart(pd.DataFrame({"d": [0]})).mark_rule(color="black", strokeWidth=2).encode(
    x=alt.value(16), y=alt.value(0), y2=alt.value(707)
).properties(width=32, height=707, view=alt.ViewBackground(stroke="transparent"))

chart = alt.hconcat(left, mid, right, spacing=0).properties(padding=0).configure_view(
    stroke="#a0a0a0", strokeWidth=1
).configure_axis(
    grid=False, domain=False, tickColor="#888888", tickSize=3, tickWidth=0.8,
    labelFontSize=5, labelColor="#777777", labelPadding=1, labelFont=FONT,
    minExtent=10, maxExtent=10,
).configure_axisY(labelAngle=270)

chart.save("out.html", embed_options={"renderer": "svg", "actions": False})
